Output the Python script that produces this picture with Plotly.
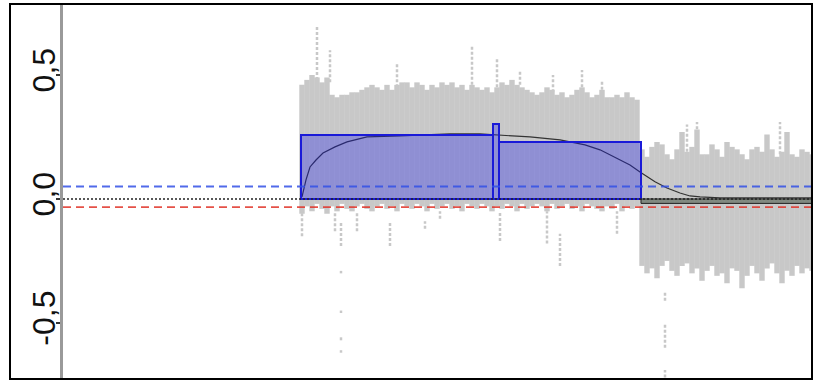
import plotly.graph_objects as go

# ---------------- data ----------------
# dense probe cloud, region 1 (positions in Mb, log-ratio envelope)
pos1 = [23.9 + 0.5 * i for i in range(68)]
hi1 = [0.46, 0.48, 0.50, 0.49, 0.47, 0.49, 0.42, 0.41, 0.42, 0.42,
       0.43, 0.43, 0.44, 0.45, 0.46, 0.45, 0.44, 0.46, 0.44, 0.46,
       0.47, 0.47, 0.45, 0.47, 0.46, 0.44, 0.46, 0.45, 0.47, 0.46,
       0.47, 0.45, 0.46, 0.44, 0.46, 0.45, 0.44, 0.45, 0.43, 0.45,
       0.47, 0.46, 0.48, 0.46, 0.45, 0.44, 0.43, 0.42, 0.43, 0.45,
       0.44, 0.42, 0.43, 0.41, 0.42, 0.44, 0.45, 0.43, 0.41, 0.42,
       0.44, 0.41, 0.41, 0.42, 0.41, 0.43, 0.41, 0.40]
lo1 = [-0.06, -0.03, -0.05, -0.02, -0.04, -0.06, -0.03, -0.05, -0.02, -0.04,
       -0.05, -0.03, -0.02, -0.04, -0.05, -0.03, -0.02, -0.04, -0.03, -0.05,
       -0.02, -0.03, -0.04, -0.02, -0.03, -0.05, -0.02, -0.04, -0.03, -0.02,
       -0.04, -0.03, -0.05, -0.02, -0.03, -0.04, -0.02, -0.03, -0.05, -0.03,
       -0.04, -0.02, -0.03, -0.05, -0.02, -0.04, -0.03, -0.02, -0.03, -0.05,
       -0.02, -0.04, -0.03, -0.02, -0.04, -0.03, -0.05, -0.02, -0.03, -0.04,
       -0.05, -0.03, -0.04, -0.02, -0.05, -0.03, -0.04, -0.03]

# dense probe cloud, region 2
pos2 = [57.9 + 0.5 * i for i in range(35)]
hi2 = [0.20, 0.17, 0.21, 0.23, 0.22, 0.18, 0.16, 0.20, 0.27, 0.19,
       0.21, 0.28, 0.18, 0.18, 0.22, 0.20, 0.17, 0.23, 0.21, 0.20,
       0.18, 0.16, 0.20, 0.21, 0.19, 0.26, 0.20, 0.17, 0.19, 0.27,
       0.18, 0.17, 0.20, 0.19, 0.18]
lo2 = [-0.27, -0.30, -0.28, -0.32, -0.27, -0.25, -0.29, -0.31, -0.27, -0.26,
       -0.30, -0.28, -0.33, -0.29, -0.27, -0.31, -0.30, -0.34, -0.28, -0.29,
       -0.36, -0.31, -0.27, -0.30, -0.33, -0.28, -0.26, -0.30, -0.34, -0.29,
       -0.31, -0.27, -0.30, -0.28, -0.29]

# scattered low outliers (position, low, high)
out_pos = [23.9, 27.2, 27.8, 29.4, 32.7, 36.2, 37.7, 43.7, 48.4, 49.7, 55.4,
           27.8, 27.8, 27.8, 27.8, 60.2, 60.2, 60.2]
out_lo = [-0.15, -0.13, -0.19, -0.13, -0.19, -0.12, -0.08, -0.17, -0.18, -0.27, -0.14,
          -0.30, -0.46, -0.57, -0.62, -0.41, -0.60, -0.72]
out_hi = [-0.01, -0.05, -0.09, -0.05, -0.09, -0.09, -0.05, -0.05, -0.05, -0.14, -0.05,
          -0.29, -0.45, -0.55, -0.61, -0.37, -0.50, -0.69]

# upward spikes (position, low, high)
spk_pos = [25.4, 26.7, 33.4, 40.9, 43.4, 45.7, 49.0, 51.9, 53.9, 62.4, 63.4, 71.7]
spk_lo = [0.48, 0.47, 0.45, 0.46, 0.45, 0.46, 0.43, 0.43, 0.42, 0.19, 0.20, 0.18]
spk_hi = [0.70, 0.60, 0.55, 0.62, 0.57, 0.52, 0.50, 0.52, 0.48, 0.30, 0.31, 0.31]

# segments (start, end, mean log-ratio)
seg_start = [23.8, 43.0, 43.6]
seg_end = [43.0, 43.6, 57.8]
seg_mean = [0.258, 0.302, 0.230]
neutral_start, neutral_end, neutral_mean = 57.8, 76.0, -0.018

# smoothed trend
trend_pos = [23.9, 24.0, 24.3, 24.7, 25.3, 26.0, 27.2, 28.4, 30.4, 33.7, 36.0,
             38.7, 41.7, 43.7, 45.0, 46.7, 49.7, 52.2, 53.7, 55.2, 56.7, 57.7,
             59.2, 60.4, 61.7, 62.7, 63.7, 65.7, 74.9]
trend_val = [0.008, 0.028, 0.077, 0.129, 0.157, 0.185, 0.210, 0.230, 0.250, 0.254, 0.258,
             0.262, 0.262, 0.258, 0.254, 0.250, 0.238, 0.218, 0.198, 0.169, 0.137, 0.109,
             0.069, 0.044, 0.024, 0.012, 0.008, 0.004, 0.004]

gain_threshold = 0.05
loss_threshold = -0.033

tick_vals = [-0.5, 0.0, 0.5]
tick_text = ["-0,5", "0,0", "0,5"]

X_RANGE = [0, 74.9]
Y_RANGE = [-0.726, 0.786]

# ---------------- figure ----------------
fig = go.Figure()


def vsegs(xs, los, his):
    X, Y = [], []
    for x, a, b in zip(xs, los, his):
        X += [x, x, None]
        Y += [a, b, None]
    return X, Y


gray = "#c8c8c8"
for xs, los, his, w in [(pos1, lo1, hi1, 5.4), (pos2, lo2, hi2, 5.4)]:
    X, Y = vsegs(xs, los, his)
    fig.add_trace(go.Scatter(x=X, y=Y, mode="lines", line=dict(color=gray, width=w),
                             hoverinfo="skip", showlegend=False))
for xs, los, his in [(out_pos, out_lo, out_hi), (spk_pos, spk_lo, spk_hi)]:
    X, Y = vsegs(xs, los, his)
    fig.add_trace(go.Scatter(x=X, y=Y, mode="lines", line=dict(color=gray, width=2.5, dash="3px,2px"),
                             hoverinfo="skip", showlegend=False))

# gain segments
for s, e, m in zip(seg_start, seg_end, seg_mean):
    fig.add_shape(type="rect", x0=s, x1=e, y0=0, y1=m, xref="x", yref="y",
                  fillcolor="rgba(25,25,235,0.32)", line=dict(color="#1a1ad8", width=2))
# neutral segment
fig.add_shape(type="rect", x0=neutral_start, x1=neutral_end, y0=0, y1=neutral_mean, xref="x", yref="y",
              fillcolor="rgba(40,60,40,0.45)", line=dict(color="#222", width=1))

# thresholds
fig.add_hline(y=gain_threshold, line=dict(color="rgba(50,80,230,0.85)", width=2, dash="8px,5px"))
fig.add_hline(y=loss_threshold, line=dict(color="rgba(225,50,40,0.85)", width=1.6, dash="8px,5px"))
fig.add_hline(y=0, line=dict(color="#222", width=1.5, dash="2px,2px"))

# smoothed trend
fig.add_trace(go.Scatter(x=trend_pos, y=trend_val, mode="lines", line=dict(color="#333", width=1.2),
                         hoverinfo="skip", showlegend=False))

# outer frame (whole paper area)
fig.add_shape(type="rect", xref="paper", yref="paper", x0=0, x1=1, y0=0, y1=1,
              line=dict(color="black", width=2), fillcolor="rgba(0,0,0,0)", layer="above")

paper_left, paper_right = 10, 812
axis_px = 63
fig.update_layout(
    width=817, height=382,
    margin=dict(l=paper_left, r=817 - paper_right, t=4, b=3),
    paper_bgcolor="white", plot_bgcolor="white",
    showlegend=False,
    xaxis=dict(range=X_RANGE, visible=False,
               domain=[(axis_px - paper_left) / (paper_right - paper_left), 1], automargin=False),
    yaxis=dict(range=Y_RANGE, showline=True, linecolor="#9a9a9a", linewidth=3,
               ticks="outside", ticklen=4, tickwidth=1.5, tickcolor="#333",
               tickvals=tick_vals, ticktext=tick_text, tickangle=-90,
               ticklabelstandoff=-12,
               tickfont=dict(family="Liberation Sans, Arial", size=32, color="#111"),
               showgrid=False, zeroline=False, automargin=False),
)

fig.write_html("out.html", config={"displayModeBar": False},
               post_script="document.body.style.margin='0';document.body.style.padding='0';")
